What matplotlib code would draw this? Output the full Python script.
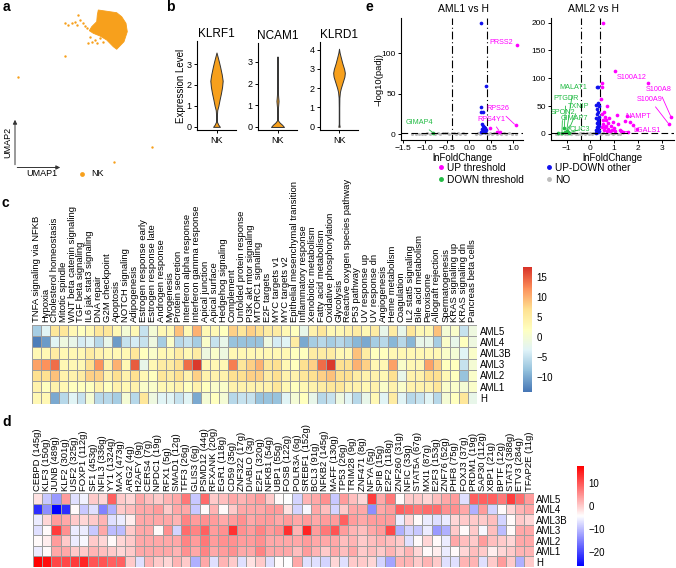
import matplotlib
matplotlib.use('Agg')
import matplotlib.pyplot as plt
import numpy as np
from matplotlib.colors import LinearSegmentedColormap
from matplotlib.lines import Line2D

plt.rcParams['font.family'] = ['Liberation Sans', 'DejaVu Sans']

# ---------------- data ----------------
# panel a: UMAP (cluster outline + sparse cells)
umap_outline_u1 = [9.83, 11.67, 12.17, 12.6, 12.73, 12.4, 11.67, 11.33, 10.67, 10.0, 9.33, 8.93, 9.17, 9.67, 9.73]
umap_outline_u2 = [-1.0, -1.27, -1.67, -2.33, -3.17, -4.17, -4.93, -4.67, -4.0, -3.6, -3.33, -3.07, -2.67, -2.17, -1.5]
umap_cells_u1 = [6.5, 6.83, 7.17, 7.5, 7.83, 8.0, 8.27, 8.5, 8.73, 7.67, 9.0, 9.17, 9.5, 9.73, 8.83, 10.0, 10.33, 6.5, 1.83, 15.23, 11.4]
umap_cells_u2 = [-2.27, -2.5, -2.33, -2.17, -1.5, -2.0, -2.33, -2.6, -2.83, -2.5, -3.73, -4.17, -4.0, -4.27, -4.33, -3.83, -4.17, -5.57, -7.73, -14.67, -16.23]

# panel b: violin outlines (expression level, relative half-width)
violin_genes = ['KLRF1', 'NCAM1', 'KLRD1']
klrf1_y = [0.0, 0.1, 0.25, 0.5, 0.8, 1.0, 1.3, 1.6, 1.9, 2.2, 2.5, 2.85, 3.1, 3.35, 3.55]
klrf1_w = [0.55, 0.3, 0.06, 0.05, 0.12, 0.3, 0.5, 0.72, 0.9, 1.0, 0.85, 0.6, 0.4, 0.18, 0.0]
ncam1_y = [0.0, 0.1, 0.2, 0.3, 0.5, 0.9, 1.1, 1.2, 1.35, 1.6, 2.0, 2.5, 3.0, 3.25]
ncam1_w = [1.05, 0.75, 0.35, 0.08, 0.05, 0.08, 0.14, 0.17, 0.12, 0.06, 0.04, 0.03, 0.03, 0.0]
klrd1_y = [0.0, 0.05, 0.15, 0.5, 1.0, 1.5, 1.8, 2.0, 2.3, 2.6, 2.8, 3.0, 3.3, 3.6, 3.85, 4.05]
klrd1_w = [0.12, 0.08, 0.04, 0.04, 0.04, 0.06, 0.15, 0.3, 0.6, 0.9, 0.97, 0.85, 0.55, 0.3, 0.1, 0.0]

# panel c: hallmark pathway scores
hallmarks = ['TNFA signaling via NFKB', 'Hypoxia', 'Cholesterol homeostasis', 'Mitotic spindle',
             'WNT beta catenin signaling', 'TGF beta signaling', 'IL6 jak stat3 signaling', 'DNA repair',
             'G2M checkpoint', 'Apoptosis', 'NOTCH signaling', 'Adipogenesis', 'Estrogen response early',
             'Estrogen response late', 'Androgen response', 'Myogenesis', 'Protein secretion',
             'Interferon alpha response', 'Interferon gamma response', 'Apical junction', 'Apical surface',
             'Hedgehog signaling', 'Complement', 'Unfolded protein response', 'PI3K akt mtor signaling',
             'MTORC1 signaling', 'E2F targets', 'MYC targets v1', 'MYC targets v2',
             'Epithelial mesenchymal transition', 'Inflammatory response', 'Xenobiotic metabolism',
             'Fatty acid metabolism', 'Oxidative phosphorylation', 'Glycolysis',
             'Reactive oxygen species pathway', 'P53 pathway', 'UV response up', 'UV response dn',
             'Angiogenesis', 'Heme metabolism', 'Coagulation', 'IL2 stat5 signaling', 'Bile acid metabolism',
             'Peroxisome', 'Allograft rejection', 'Spermatogenesis', 'KRAS signaling up', 'KRAS signaling dn',
             'Pancreas beta cells']
samples = ['AML5', 'AML4', 'AML3B', 'AML3', 'AML2', 'AML1', 'H']
c_AML5 = [-7, -3, 6, 6, 3, 2, 3, 6, 6, 3, 0, 3, -5, 0, 3, 3, 9, 3, 10, 3, 3, 2, 8, 6, 8,
          7, 5, 5, 3, 2, -2, 4, 6, 3, 3, 4, 5, 3, 5, -2, 5, -2, 6, 3, 3, 9, 0, 1, -5, -1]
c_AML4 = [-13, -11, -3, -1, -2, -4, -3, -6, -2, -11, -5, -4, -5, -1, -7, 1, -6, -5, -7, 1, -5, -2, -8, -8, -8,
          -8, -1, -4, -3, 5, -10, -7, -6, -7, -6, -7, -9, -10, -7, -6, -9, -6, -9, -2, -2, -7, 1, -2, 2, -1]
c_AML3B = [3, 3, 5, 3, 3, 3, 5, 4, 3, 3, 3, 6, 2, 1, 3, 3, 5, 3, 5, -1, 1, -1, 3, 3, 3,
           3, 3, 3, 3, 2, 2, 5, 5, 5, 3, 3, 9, 5, 2, 2, 3, 3, 3, 3, 3, 3, 1, 0, -3, 1]
c_AML3 = [11, 12, 14, 3, 3, 3, 7, 12, 4, 10, 3, 15, -2, 3, 5, 5, 7, 14, 17, 3, 3, 3, 13, 6, 8,
          10, 6, 7, 3, 2, 7, 8, 14, 17, 7, 7, 10, 8, 3, 3, 11, 1, 3, 3, 11, 8, 2, 2, -5, 0]
c_AML2 = [7, 7, 9, 4, 4, 5, 8, 8, 4, 7, 4, 7, 3, 2, 6, 5, 7, 4, 8, 4, 4, 4, 7, 7, 8,
          8, 5, 7, 4, 4, 6, 7, 8, 9, 7, 7, 5, 4, 4, 3, 7, -2, 4, 4, 7, 7, 3, 2, -8, 1]
c_AML1 = [4, 2, 4, 3, 2, 2, 2, 4, 2, 4, 3, 4, 1, 1, 3, 3, 4, 2, 4, 2, 1, 1, 4, 4, 4,
          4, 4, 6, 3, 2, 3, 4, 5, 6, 6, 4, 4, 3, 4, 1, 4, 1, 4, 4, 4, 6, 1, 1, 0, 1]
c_H = [3, 3, -10, -6, -3, -5, 0, -6, -6, -7, 0, -6, 6, -1, -3, -3, -5, -3, -10, 0, 2, 0, -6, -5, -5,
       -8, -8, -8, -3, 0, 2, -2, -6, -5, -1, -3, -6, -2, 3, -3, 5, -3, -6, -5, -3, -6, 0, 2, 6, -2]
c_range = (-13.7, 17.5)

# panel d: regulon activity
regulons = ['CEBPD (145g)', 'KLF3 (150g)', 'JUNB (489g)', 'KLF2 (301g)', 'USF2 (325g)', 'FOXP1 (112g)',
            'SF1 (453g)', 'NFIL3 (336g)', 'YY1 (1324g)', 'MAX (473g)', 'ARG2 (4g)', 'H2AFY (9g)',
            'CERS4 (7g)', 'NPDC1 (19g)', 'RFX1 (5g)', 'SMAD1 (12g)', 'TFF3 (26g)', 'GLIS3 (6g)',
            'PSMD12 (44g)', 'RFXANK (20g)', 'EGR1 (118g)', 'CD59 (35g)', 'ZNF322 (17g)', 'DIABLO (3g)',
            'E2F1 (320g)', 'NFKB1 (54g)', 'UBP1 (55g)', 'FOSB (122g)', 'POLR3A (6g)', 'SREBF1 (152g)',
            'BCL3 (91g)', 'NFKB2 (145g)', 'MAFF (130g)', 'TP53 (26g)', 'TRIM28 (9g)', 'ZNF471 (8g)',
            'NFYA (5g)', 'SPIB (15g)', 'E2F2 (118g)', 'ZNF260 (31g)', 'NFIC (33g)', 'STAT5A (67g)',
            'MXI1 (87g)', 'E2F3 (153g)', 'ZNF76 (52g)', 'PHF8 (75g)', 'FOXJ3 (37g)', 'PRDM1 (19g)',
            'SAP30 (112g)', 'XBP1 (21g)', 'BPTF (12g)', 'STAT3 (388g)', 'ETV3 (284g)', 'TFAP2E (11g)']
d_AML5 = [-2, -9, -13, 4, -7, -5.5, 0, -1, 9, 0, -1, 3, 1, 0, 2, 3, 7, -9, 8, 0, 1, 3, 2, 3, 4, 0, -4,
          -4.5, -8, 2, 3, 5, -9, 4, 1, -1, 12, 3, 7, -4, 0, 0, -1, 1, 3, 4, -7, 9, 9, 9, 7, 12, 8, 4]
d_AML4 = [-22, -14, -26, -22, -4, -9, -7, -15, -11, 0, 1, 3, 3, 4, 0, 3, 3, -9, -4, 2, -4, 0, 3, 3, 3, 4, 4,
          -2, -8, -5, 3, 1, -8, 0, 3, 3, -14, 3, 4, 9, 8, 7, 8, 8, 5, 5, 3, -11, 4, -8, -4, -1, 2, 3]
d_AML3B = [-6, -1, 4, 3, 0, -1, 0, 2, -7, -6, -3, 3, 3, 3, 3, 2, 6, 4, 5, 4, 3, 4, 5, 3, 4, 4, 3,
           4, 3, 4, 3, 4, 4, 9, 4, 3, 4, 4, 4, -6, -1, -4, -6, -7, -6, -1, 0, 0, 0, 1, -8, -4, 0, -1]
d_AML3 = [-7, -4, 12, 5, -6, -6, -9, 3, -10, -10, 0, 3, 3, -4, 5, -8, 8, 6, 9, 4, 5, 13, 5, 4, 6, 4, 5,
          13, 2, 14, 4, 7, 10, 4, 2, 1, 3, 4, 11, -11, -8, -9, -6, -13, -11, 0, -4, 0, -5, 1, -10, -4, 3, 3]
d_AML2 = [-4, -3, 4, 0, -6, -5, 0, -1, -4, -1, 0, 3, 3, 3, 3, 3, 6, 4, 7, 4, 5, 5, 4, 4, 5, 3, 3,
          3, 3, 4, 3, 3, 3, 1, 2, 0, 1, 2, 1, 0, -7, -4, -1, -4, -6, 3, 1, 0, 4, 1, 0, -1, 3, 3]
d_AML1 = [-6, -4, 3, 3, 0, 0, 2, 1, 0, -1, 0, 3, 3, 3, 3, 2, 5, 3, 6, 3, 4, 5, 3, 3, 6, 3, 3,
          3, 1, 4, 2, 0, 3, 1, 3, 0, 1, 0, 2, 0, 2, -1, -4, -3, -6, -4, -1, 1, 0, -3, -1, 0, 2, 2]
d_H = [17, 16, 11, 11, 12, 14, 10, 10, 9, 9, 0, -7, 2, 0, -1, 2, 0, -11, 3, -7, 2, 0, -7, -2, 0, -7, -4,
       -4.5, 3, -7, -7, -8, -1, -7, 0, 0, -1, -8, -12, 2, 2, 0, 2, 0, -7, -7, 2, 2, -7, 0, 4, 0, -11, 0]
d_range = (-26, 17.2)

# panel e: volcano points (lnFoldChange, -log10 padj)
aml1_no_x = [-1.3, -1.22, -1.15, -1.08, -1.0, -0.95, -0.9, -0.85, -0.78, -0.72, -0.66, -0.6, -0.55, -0.5, -0.45,
             -0.4, -0.35, -0.3, -0.25, -0.2, -0.15, -0.1, 0.15, 0.2, 0.25, 0.3, 0.35, 0.42, 0.47, 0.52, 0.57,
             0.62, 0.67, 0.72, 0.78, 0.84, 0.9, 0.97, 1.05]
aml1_no_y = [0.2, 0.4, 0.3, 0.6, 0.5, 0.8, 0.3, 1.0, 0.6, 1.2, 0.4, 0.9, 0.7, 1.1, 0.5, 0.8, 1.2, 0.4, 0.7, 0.5,
             0.9, 0.3, 0.5, 0.9, 0.4, 1.1, 0.7, 0.3, 1.0, 0.6, 0.8, 0.4, 1.2, 0.5, 0.9, 0.3, 0.7, 0.4, 0.2]
aml1_mid_x = [0.26, 0.39, 0.26, 0.27, 0.31, 0.28, 0.32, 0.35, 0.29, 0.37, 0.33, 0.3, 0.36, 0.27, 0.34]
aml1_mid_y = [138, 60, 33, 27, 27, 12, 10, 8, 6, 5, 4, 3, 2.5, 2, 9]
aml1_up_x = [1.08, 1.05, 0.46, 0.62, 0.69]
aml1_up_y = [110, 11, 7, 3, 3]
aml1_down_x = [-0.82]
aml1_down_y = [1.6]

aml2_no_x = [-1.45, -1.38, -1.3, -1.22, -1.15, -1.08, -0.98, -0.9, -0.82, -0.75, -0.68, -0.6, -0.52, -0.45,
             -0.38, -0.3, -0.22, -0.15, -0.08, 0.0, 0.06, 0.12, 0.18, 0.45, 0.55, 0.65, 0.75, 0.85, 0.95, 1.05,
             1.15, 1.25]
aml2_no_y = [0.3, 0.6, 1.0, 0.4, 1.3, 0.7, 0.2, 1.1, 0.5, 0.9, 1.4, 0.3, 0.8, 1.2, 0.5, 1.0, 0.4, 1.5, 0.7,
             1.1, 0.3, 0.9, 1.3, 0.6, 1.0, 0.4, 0.8, 1.2, 0.5, 0.9, 0.3, 0.6]
aml2_mid_x = [0.28, 0.33, 0.3, 0.25, 0.35, 0.27, 0.32, 0.29, 0.36, 0.24, 0.31, 0.34, 0.26, 0.3, 0.37, 0.28,
              0.33, 0.22, 0.35, 0.3, 0.27, 0.32, 0.25]
aml2_mid_y = [84, 84, 55, 52, 50, 45, 40, 35, 31, 28, 25, 22, 20, 18, 15, 12, 10, 8, 6, 5, 4, 3, 2]
aml2_up_x = [0.51, 0.47, 0.50, 1.03, 2.41, 3.4, 3.3, 0.68, 0.56, 1.1, 1.52, 0.79, 0.94, 1.17, 1.66, 1.8,
             0.45, 0.5, 0.6, 0.65, 0.72, 0.85, 1.0, 1.25, 1.38, 1.45, 0.55, 0.62, 0.75, 0.9, 1.05, 1.3, 0.48,
             0.58, 0.7, 0.82, 1.6, 1.95, 0.52, 0.67]
aml2_up_y = [200, 92, 84, 114, 92, 30, 18, 50, 40, 34, 32, 29, 22, 18, 22, 16, 62, 35, 30, 26, 20, 14, 10, 8,
             4, 24, 18, 12, 9, 7, 5, 6, 12, 8, 6, 5, 4, 9, 25, 15]
aml2_down_x = [-1.1, -1.0, -0.95, -1.05, -0.9, -1.2, -1.35]
aml2_down_y = [10, 6, 4, 3, 2, 2, 1.5]

# gene labels: (name, point x, point y, label x, label y)
aml1_labels = [('PRSS2', None, None, 0.72, 113), ('RPS26', 1.05, 11, 0.66, 31),
               ('RPS4Y1', 0.69, 3, 0.5, 18), ('GIMAP4', -0.82, 1.6, -1.13, 14)]
aml2_up_labels = [('S100A12', None, None, 1.75, 101), ('S100A8', 3.4, 30, 2.88, 80),
                  ('S100A9', 3.3, 18, 2.5, 62), ('NAMPT', None, None, 2.0, 31),
                  ('LGALS1', 1.38, 4, 2.4, 6)]
aml2_down_labels = [('MALAT1', -1.0, 6, -0.72, 83), ('PTGDR', -1.1, 10, -1.03, 64),
                    ('TXNIP', -0.95, 4, -0.48, 50), ('SPON2', -1.2, 2, -1.17, 38),
                    ('GIMAP7', -1.05, 3, -0.68, 28), ('CLIC3', -0.9, 2, -0.44, 8)]

# ---------------- figure ----------------
W, H = 676, 568
fig = plt.figure(figsize=(W / 100, H / 100), dpi=100)


def box(x0, y0, x1, y1):
    return [x0 / W, 1 - y1 / H, (x1 - x0) / W, (y1 - y0) / H]


def ftext(x, y, s, **kw):
    fig.text(x / W, 1 - y / H, s, **kw)


ORANGE = '#F7A01C'
MAG = '#FF00FF'
GRN = '#22BB44'
BLU = '#1010EE'
GRY = '#BDBDBD'

# panel letters
for letter, (lx, ly) in {'a': (3, 7), 'b': (166, 7), 'e': (365, 7), 'c': (2, 203), 'd': (2, 422)}.items():
    ftext(lx, ly, letter, fontsize=10, fontweight='bold', ha='left', va='center')

# ---- panel a ----
axa = fig.add_axes(box(0, 0, 170, 180))
axa.set_xlim(0, 17)
axa.set_ylim(-18, 0)
axa.axis('off')
axa.fill(umap_outline_u1, umap_outline_u2, color=ORANGE, lw=0.6, ec=ORANGE)
axa.scatter(umap_cells_u1, umap_cells_u2, s=3, color=ORANGE, lw=0)
axa.annotate('', xy=(1.5, -11.7), xytext=(1.5, -16.75),
             arrowprops=dict(arrowstyle='-|>', lw=0.7, color='#333333', mutation_scale=6))
axa.annotate('', xy=(6.3, -16.75), xytext=(1.45, -16.75),
             arrowprops=dict(arrowstyle='-|>', lw=0.7, color='#333333', mutation_scale=6))
axa.text(0.75, -14.2, 'UMAP2', rotation=90, fontsize=6.5, ha='center', va='center')
axa.text(2.6, -17.4, 'UMAP1', fontsize=6.5, ha='left', va='center')
axa.scatter([8.2], [-17.35], s=12, color=ORANGE, lw=0)
axa.text(9.1, -17.4, 'NK', fontsize=6.5, ha='left', va='center')

# ---- panel b ----
ftext(181, 86, 'Expression Level', rotation=90, fontsize=7, ha='center', va='center')
violin_data = [(klrf1_y, klrf1_w), (ncam1_y, ncam1_w), (klrd1_y, klrd1_w)]
violin_boxes = [(197, 41, 236, 130), (258, 43, 297, 130), (320, 42, 358, 130)]
violin_ylims = [(-0.15, 4.1), (-0.14, 3.87), (-0.17, 4.4)]
violin_ticks = [[0, 1, 2, 3], [0, 1, 2, 3], [0, 1, 2, 3, 4]]
for gene, (vy, vw), bx, yl, tk in zip(violin_genes, violin_data, violin_boxes, violin_ylims, violin_ticks):
    ax = fig.add_axes(box(*bx))
    w = np.array(vw) * 0.19
    ax.fill_betweenx(vy, 1 - w, 1 + w, color=ORANGE, ec='#333333', lw=0.7)
    ax.set_xlim(0.4, 1.6)
    ax.set_ylim(*yl)
    ax.set_yticks(tk)
    ax.set_xticks([1])
    ax.set_xticklabels(['NK'])
    for s in ['top', 'right']:
        ax.spines[s].set_visible(False)
    for s in ['left', 'bottom']:
        ax.spines[s].set_linewidth(0.8)
    ax.tick_params(labelsize=6.5, length=2.5, width=0.7, pad=1.5)
    ax.set_title(gene, fontsize=8.5, pad=3)

# ---- panel e ----
ftext(378.5, 80, '\u2212log10(padj)', rotation=90, fontsize=6.8, ha='center', va='center')
ftext(464, 9, 'AML1 vs H', fontsize=7.5, ha='center', va='center')
ftext(594, 9, 'AML2 vs H', fontsize=7.5, ha='center', va='center')


def volcano(bx, xlim, ylim, xt, yt, no, mid, up, down):
    ax = fig.add_axes(box(*bx))
    ax.scatter(*no, s=5, color=GRY, lw=0, zorder=2)
    ax.scatter(*mid, s=7, color=BLU, lw=0, zorder=3)
    ax.scatter(*up, s=7, color=MAG, lw=0, zorder=3)
    ax.scatter(*down, s=7, color=GRN, lw=0, zorder=3)
    for v in (-0.4, 0.4):
        ax.axvline(v, color='black', lw=0.8, ls=(0, (7, 2.5, 1, 2.5)), zorder=1)
    ax.axhline(-np.log10(0.05), color='black', lw=0.8, ls=(0, (6, 3)), zorder=4)
    ax.set_xlim(*xlim)
    ax.set_ylim(*ylim)
    ax.set_xticks(xt)
    ax.set_yticks(yt)
    for s in ['top', 'right']:
        ax.spines[s].set_visible(False)
    ax.tick_params(labelsize=6, length=2.5, width=0.7, pad=1.2)
    ax.set_xlabel('lnFoldChange', fontsize=7, labelpad=0.5)
    return ax


ax1 = volcano((401, 18, 523, 140), (-1.55, 1.22), (-7.4, 143.7), [-1.5, -1.0, -0.5, 0.0, 0.5, 1.0],
              [0, 50, 100], (aml1_no_x, aml1_no_y), (aml1_mid_x, aml1_mid_y), (aml1_up_x, aml1_up_y),
              (aml1_down_x, aml1_down_y))
ax1.set_xticklabels(['\u22121.5', '\u22121.0', '\u22120.5', '0.0', '0.5', '1.0'])
ax2 = volcano((551, 18, 674, 140), (-1.66, 3.52), (-10.8, 208.3), [-1, 0, 1, 2, 3],
              [0, 50, 100, 150, 200], (aml2_no_x, aml2_no_y), (aml2_mid_x, aml2_mid_y),
              (aml2_up_x, aml2_up_y), (aml2_down_x, aml2_down_y))
ax2.set_xticklabels(['\u22121', '0', '1', '2', '3'])


def label(ax, items, color):
    for name, px, py, lx, ly in items:
        if px is None:
            ax.text(lx, ly, name, color=color, fontsize=5.2, ha='center', va='center', zorder=5)
        else:
            ax.annotate(name, xy=(px, py), xytext=(lx, ly), color=color, fontsize=5.2,
                        ha='center', va='center', zorder=5,
                        arrowprops=dict(arrowstyle='-', color=color, lw=0.6, shrinkA=1, shrinkB=1))


label(ax1, aml1_labels[:3], MAG)
label(ax1, aml1_labels[3:], GRN)
label(ax2, aml2_up_labels, MAG)
label(ax2, aml2_down_labels, GRN)

handles = [Line2D([], [], marker='o', ls='', color=c, ms=2.5) for c in (MAG, GRN, BLU, GRY)]
fig.legend(handles, ['UP threshold', 'DOWN threshold', 'UP-DOWN other', 'NO'], ncol=2,
           loc='upper left', bbox_to_anchor=(436 / W, 1 - 163 / H), frameon=False, fontsize=7.3,
           handletextpad=0.1, columnspacing=2.0, labelspacing=0.2, handlelength=1.0,
           borderaxespad=0, borderpad=0)


# ---- heatmaps ----
def heatmap(bx, data, cols, cmap, vr, cbx, cticks):
    ax = fig.add_axes(box(*bx))
    arr = np.array(data, dtype=float)
    m = ax.pcolormesh(arr, cmap=cmap, vmin=vr[0], vmax=vr[1], edgecolors='#9E9E9E', linewidth=0.6)
    ax.set_xlim(0, arr.shape[1])
    ax.set_ylim(arr.shape[0], 0)
    ax.xaxis.tick_top()
    ax.set_xticks(np.arange(arr.shape[1]) + 0.5)
    ax.set_xticklabels(cols, rotation=90, fontsize=6.8)
    ax.yaxis.tick_right()
    ax.set_yticks(np.arange(arr.shape[0]) + 0.5)
    ax.set_yticklabels(samples, fontsize=7)
    ax.tick_params(length=0, pad=2)
    for s in ax.spines.values():
        s.set_visible(False)
    cax = fig.add_axes(box(*cbx))
    cb = fig.colorbar(m, cax=cax, ticks=cticks)
    cb.outline.set_visible(False)
    cax.tick_params(length=0, labelsize=7, pad=3)
    cax.set_yticklabels([str(t).replace('-', '\u2212') for t in cticks])
    return ax


cmap_c = LinearSegmentedColormap.from_list('rdylbu', ['#4575B4', '#91BFDB', '#E0F3F8', '#FFFFBF',
                                                      '#FEE090', '#FC8D59', '#D73027'])
cmap_d = LinearSegmentedColormap.from_list('bwr2', ['#0000FF', '#FFFFFF', '#FF0000'])

heatmap((32, 325, 477, 403.5), [c_AML5, c_AML4, c_AML3B, c_AML3, c_AML2, c_AML1, c_H], hallmarks,
        cmap_c, c_range, (523, 267, 532, 392), [-10, -5, 0, 5, 10, 15])
heatmap((32.7, 493.3, 533.7, 567), [d_AML5, d_AML4, d_AML3B, d_AML3, d_AML2, d_AML1, d_H], regulons,
        cmap_d, d_range, (577, 466, 584, 566), [-20, -10, 0, 10])

fig.savefig('out.png', dpi=100)
